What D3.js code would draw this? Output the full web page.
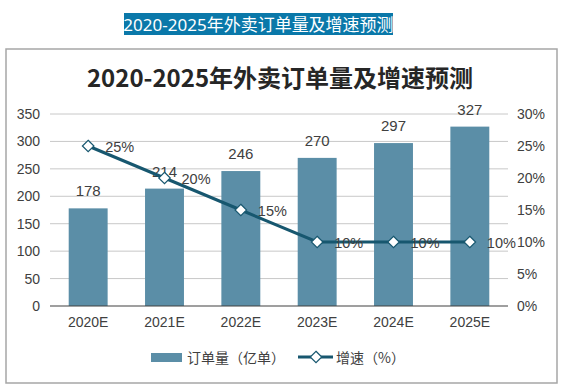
<!DOCTYPE html>
<html>
<head>
<meta charset="utf-8">
<script src="https://cdn.jsdelivr.net/npm/d3@7"></script>
<style>
  body { margin: 0; background: #fff; }
  svg { display: block; font-family: "Liberation Sans", Arial, "Noto Sans CJK SC", sans-serif; }
</style>
</head>
<body>
<div id="chart"></div>
<script>
var years = ['2020E', '2021E', '2022E', '2023E', '2024E', '2025E'];
var orders = [178, 214, 246, 270, 297, 327];
var growth = [25, 20, 15, 10, 10, 10];
var leftTicks = [0, 50, 100, 150, 200, 250, 300, 350];
var rightTicks = [0, 5, 10, 15, 20, 25, 30];

var width = 564,
  height = 389,
  plotLeft = 50,
  plotRight = 508,
  plotTop = 114,
  plotBottom = 306;

var barColor = '#5b8ea7',
  lineColor = '#17576f',
  textColor = '#404040',
  cjk = '"Noto Sans CJK SC", sans-serif',
  latin = '"Liberation Sans", Arial, sans-serif';

var svg = d3.select('#chart').append('svg')
  .attr('width', width)
  .attr('height', height);

// page heading with blue highlight
svg.append('rect')
  .attr('x', 124).attr('y', 13)
  .attr('width', 269).attr('height', 22)
  .attr('fill', '#0a78a9');
svg.append('text')
  .attr('x', 258.5).attr('y', 30.5)
  .attr('text-anchor', 'middle')
  .attr('font-family', '"Noto Sans", "Noto Sans CJK SC", sans-serif')
  .attr('font-size', 17)
  .attr('fill', '#fff')
  .text('2020-2025年外卖订单量及增速预测');

// frame
svg.append('rect')
  .attr('x', 6).attr('y', 49)
  .attr('width', 551).attr('height', 334)
  .attr('fill', 'none')
  .attr('stroke', '#a6a6a6')
  .attr('stroke-width', 1.5);

svg.append('text')
  .attr('x', 280).attr('y', 87)
  .attr('text-anchor', 'middle')
  .attr('font-family', cjk)
  .attr('font-weight', 'bold')
  .attr('font-size', 24)
  .attr('fill', '#262626')
  .text('2020-2025年外卖订单量及增速预测');

var x = d3.scaleBand()
  .domain(years)
  .range([plotLeft, plotRight])
  .paddingInner(0.49)
  .paddingOuter(0.245);

var yLeft = d3.scaleLinear().domain([0, 350]).range([plotBottom, plotTop]);
var yRight = d3.scaleLinear().domain([0, 30]).range([plotBottom, plotTop]);

// gridlines
svg.append('g')
  .selectAll('line')
  .data(leftTicks.slice(1))
  .enter()
  .append('line')
  .attr('x1', plotLeft).attr('x2', plotRight)
  .attr('y1', function (d) { return yLeft(d); })
  .attr('y2', function (d) { return yLeft(d); })
  .attr('stroke', '#c8c8c8')
  .attr('stroke-width', 1);

var leftAxis = d3.axisLeft(yLeft).tickValues(leftTicks).tickSize(0).tickPadding(10);
svg.append('g')
  .attr('transform', 'translate(' + plotLeft + ',0)')
  .call(leftAxis)
  .call(function (g) { g.select('.domain').remove(); })
  .selectAll('text')
  .attr('font-size', 14)
  .attr('fill', textColor)
  .attr('font-family', latin);

var rightAxis = d3.axisRight(yRight).tickValues(rightTicks).tickSize(0).tickPadding(9)
  .tickFormat(function (d) { return d + '%'; });
svg.append('g')
  .attr('transform', 'translate(' + plotRight + ',0)')
  .call(rightAxis)
  .call(function (g) { g.select('.domain').remove(); })
  .selectAll('text')
  .attr('font-size', 14)
  .attr('fill', textColor)
  .attr('font-family', latin);

// bars
svg.append('g')
  .selectAll('rect')
  .data(orders)
  .enter()
  .append('rect')
  .attr('x', function (d, i) { return x(years[i]); })
  .attr('y', function (d) { return yLeft(d); })
  .attr('width', x.bandwidth())
  .attr('height', function (d) { return plotBottom - yLeft(d); })
  .attr('fill', barColor);

svg.append('g')
  .selectAll('text')
  .data(orders)
  .enter()
  .append('text')
  .attr('x', function (d, i) { return x(years[i]) + x.bandwidth() / 2; })
  .attr('y', function (d) { return yLeft(d) - 12; })
  .attr('text-anchor', 'middle')
  .attr('font-size', 15)
  .attr('fill', textColor)
  .text(function (d) { return d; });

// x axis
var xAxis = d3.axisBottom(x).tickSize(0).tickPadding(11);
svg.append('g')
  .attr('transform', 'translate(0,' + plotBottom + ')')
  .call(xAxis)
  .call(function (g) {
    g.select('.domain').attr('stroke', '#404040').attr('stroke-width', 1.2)
      .attr('d', 'M' + plotLeft + ',0H' + plotRight);
  })
  .selectAll('text')
  .attr('font-size', 14)
  .attr('fill', textColor)
  .attr('font-family', latin);

// growth line
var cx = function (d, i) { return x(years[i]) + x.bandwidth() / 2; };
var line = d3.line()
  .x(cx)
  .y(function (d) { return yRight(d); });

svg.append('path')
  .datum(growth)
  .attr('d', line)
  .attr('fill', 'none')
  .attr('stroke', lineColor)
  .attr('stroke-width', 3);

var diamond = d3.symbol().type(d3.symbolDiamond2).size(85);
svg.append('g')
  .selectAll('path')
  .data(growth)
  .enter()
  .append('path')
  .attr('d', diamond)
  .attr('transform', function (d, i) { return 'translate(' + cx(d, i) + ',' + yRight(d) + ')'; })
  .attr('fill', '#fff')
  .attr('stroke', lineColor)
  .attr('stroke-width', 1.2);

svg.append('g')
  .selectAll('text')
  .data(growth)
  .enter()
  .append('text')
  .attr('x', function (d, i) { return cx(d, i) + 17; })
  .attr('y', function (d) { return yRight(d) + 6; })
  .attr('font-size', 14.5)
  .attr('fill', textColor)
  .text(function (d) { return d + '%'; });

// legend
var legend = svg.append('g').attr('font-family', cjk).attr('font-size', 14).attr('fill', textColor);
legend.append('rect')
  .attr('x', 151).attr('y', 353)
  .attr('width', 31).attr('height', 9)
  .attr('fill', barColor);
legend.append('text')
  .attr('x', 187).attr('y', 362.5)
  .text('订单量（亿单）');
legend.append('line')
  .attr('x1', 298).attr('x2', 333)
  .attr('y1', 357).attr('y2', 357)
  .attr('stroke', lineColor)
  .attr('stroke-width', 3);
legend.append('path')
  .attr('d', diamond)
  .attr('transform', 'translate(316,357)')
  .attr('fill', '#fff')
  .attr('stroke', lineColor)
  .attr('stroke-width', 1.2);
legend.append('text')
  .attr('x', 336).attr('y', 362.5)
  .text('增速（%）');
</script>
</body>
</html>
